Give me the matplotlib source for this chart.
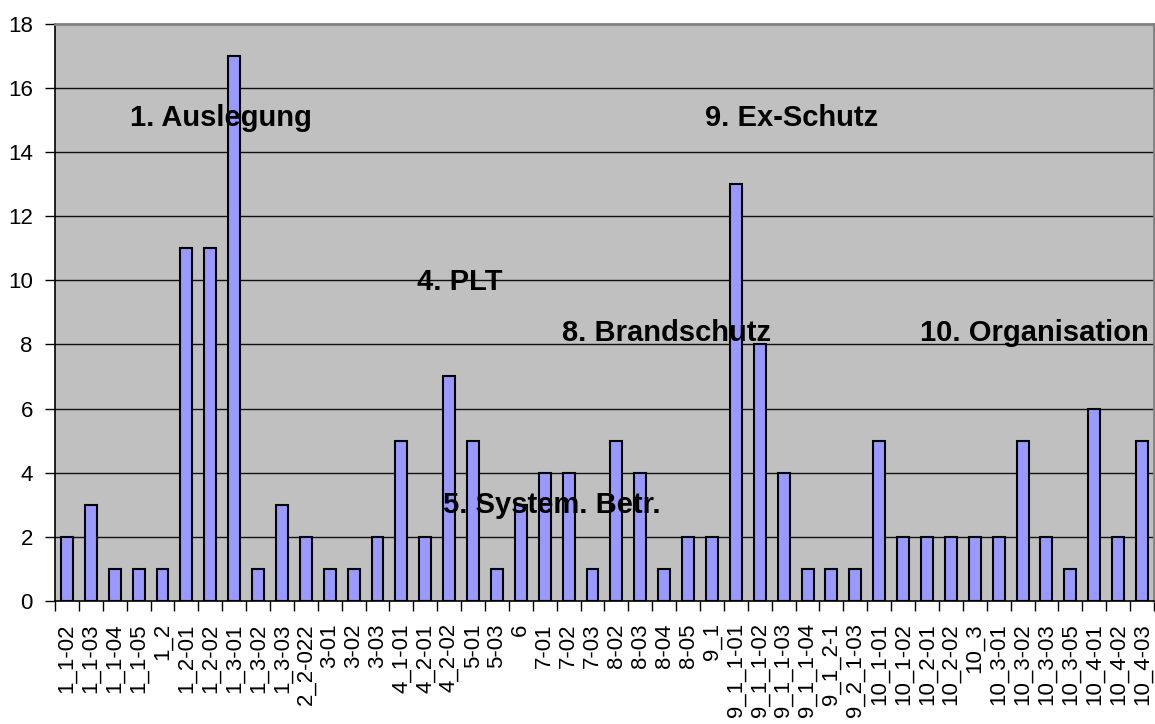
import matplotlib
matplotlib.use("Agg")
import matplotlib.pyplot as plt
import numpy as np

categories = ["1_1-02", "1_1-03", "1_1-04", "1_1-05", "1_2", "1_2-01", "1_2-02", "1_3-01",
              "1_3-02", "1_3-03", "2_2-022", "3-01", "3-02", "3-03", "4_1-01", "4_2-01",
              "4_2-02", "5-01", "5-03", "6", "7-01", "7-02", "7-03", "8-02", "8-03", "8-04",
              "8-05", "9_1", "9_1_1-01", "9_1_1-02", "9_1_1-03", "9_1_1-04", "9_1_2-1",
              "9_2_1-03", "10_1-01", "10_1-02", "10_2-01", "10_2-02", "10_3", "10_3-01",
              "10_3-02", "10_3-03", "10_3-05", "10_4-01", "10_4-02", "10_4-03"]
values = [2, 3, 1, 1, 1, 11, 11, 17, 1, 3, 2, 1, 1, 2, 5, 2, 7, 5, 1, 3, 4, 4, 1, 5, 4, 1,
          2, 2, 13, 8, 4, 1, 1, 1, 5, 2, 2, 2, 2, 2, 5, 2, 1, 6, 2, 5]

group_labels = ["1. Auslegung", "4. PLT", "5. System. Betr.", "8. Brandschutz",
                "9. Ex-Schutz", "10. Organisation"]
group_label_x = [2.64, 14.65, 15.74, 20.72, 26.7, 35.7]
group_label_y = [15.07, 9.95, 2.99, 8.36, 15.07, 8.36]

plt.rcParams['font.family'] = ['Liberation Sans', 'DejaVu Sans']

fig = plt.figure(figsize=(11.55, 7.24), dpi=100)
ax = fig.add_axes([0.0476, 0.1699, 0.9515, 0.7976])
ax.set_facecolor('#C0C0C0')

x = np.arange(len(categories))
ax.bar(x, values, width=0.5, color='#9999FF', edgecolor='black', linewidth=1.5, zorder=3)

ax.set_xlim(-0.5, len(categories) - 0.5)
ax.set_ylim(0, 18)
ax.set_yticks(np.arange(0, 19, 2))
for yv in range(2, 18, 2):
    ax.axhline(yv, color='#101010', linewidth=1.0, zorder=1)

ax.set_xticks(x)
ax.set_xticklabels(categories, rotation=90, fontsize=16)
ax.set_xticks(np.arange(-0.5, len(categories), 1), minor=True)
ax.tick_params(axis='x', which='major', length=0, pad=16)
ax.tick_params(axis='x', which='minor', length=7, width=1, color='black')
ax.tick_params(axis='y', labelsize=16, length=7, width=1, color='black', pad=9)

for s in ['left', 'bottom']:
    ax.spines[s].set_color('black')
    ax.spines[s].set_linewidth(1.2)
for s in ['top', 'right']:
    ax.spines[s].set_color('#808080')
    ax.spines[s].set_linewidth(2)

for t, tx, ty in zip(group_labels, group_label_x, group_label_y):
    ax.text(tx, ty, t, fontsize=21, fontweight='bold', ha='left', va='center', zorder=5)

fig.savefig('out.png', dpi=100)
